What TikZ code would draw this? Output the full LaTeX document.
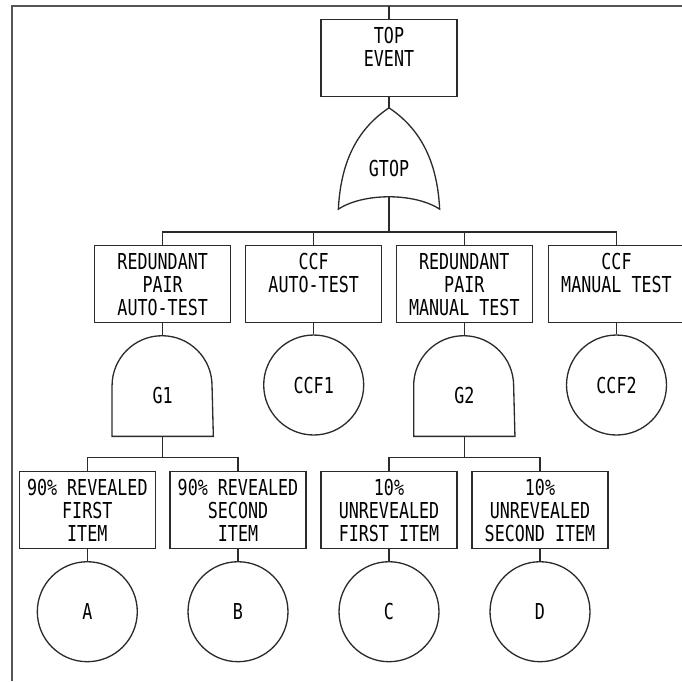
\documentclass[tikz,border=0pt]{standalone}
\usepackage{fontspec}
\newfontfamily\cadfont[FakeStretch=0.76]{DejaVu Sans Mono}
\newcommand{\cadsize}{\cadfont\fontsize{12.5pt}{13.1pt}\selectfont}
\usetikzlibrary{calc}
\definecolor{cline}{HTML}{2B2B2B}
\definecolor{cframe}{HTML}{555555}
\tikzset{
  every picture/.style={line width=0.75pt},
  evbox/.style={draw=cline, minimum width=2.72cm, minimum height=1.54cm, inner sep=0pt},
  evtext/.style={anchor=north, yshift=-0.16cm, align=center, inner sep=0pt, font=\cadsize},
  basic/.style={draw=cline, circle, minimum size=2cm, inner sep=0pt, font=\cadsize},
  gate/.style={minimum width=2cm, minimum height=2cm, inner sep=0pt},
  gatetext/.style={anchor=center, yshift=-0.2cm, inner sep=0pt, font=\cadsize},
  wire/.style={draw=cline},
  frame/.style={draw=cframe, line width=1.1pt},
}

\begin{document}
\begin{tikzpicture}[x=0.02cm, y=-0.02cm]
  \useasboundingbox (0,0) rectangle (682,681);
  \draw[frame] (682,5.7) -- (12,5.7) -- (12,681);
  % top event and OR gate
  \coordinate (topin) at (389,5.7);
  \node[evbox, label={[evtext]north:{TOP\\EVENT}}] (top) at (389,57.7) {};
  \node[gate, label={[gatetext]center:GTOP}] (gtop) at (389,158.5) {};
  \draw[wire] (gtop.south west) .. controls +(0.05cm,1cm) and +(-0.6cm,-0.4cm) .. (gtop.north)
    .. controls +(0.6cm,-0.4cm) and +(-0.05cm,1cm) .. (gtop.south east)
    .. controls +(-0.5cm,0.33cm) and +(0.5cm,0.33cm) .. (gtop.south west) -- cycle;
  \coordinate (gtopout) at ($(gtop.south)+(0cm,0.25cm)$);
  \draw[wire] (topin) -- (top.north);
  \draw[wire] (top.south) -- (gtop.north);
  % first level
  \node[evbox, label={[evtext]north:{REDUNDANT\\PAIR\\AUTO-TEST}}] (rpa) at (162.7,283.7) {};
  \node[evbox, label={[evtext]north:{CCF\\AUTO-TEST}}] (ccfa) at (313.7,283.7) {};
  \node[evbox, label={[evtext]north:{REDUNDANT\\PAIR\\MANUAL TEST}}] (rpm) at (464.3,283.7) {};
  \node[evbox, label={[evtext]north:{CCF\\MANUAL TEST}}] (ccfm) at (616.5,283.7) {};
  \coordinate (bus1) at (389,232);
  \draw[wire] (gtopout) -- (bus1);
  \foreach \n in {rpa,ccfa,rpm,ccfm} \draw[wire] (bus1) -| (\n.north);
  % AND gates and CCF events
  \node[gate, label={[gatetext]center:G1}] (g1) at (162.7,385.7) {};
  \node[gate, label={[gatetext]center:G2}] (g2) at (464.3,385.7) {};
  \foreach \g in {g1,g2}
    \draw[wire] (\g.south west) -- (\g.west) arc[start angle=180, end angle=0, radius=1cm] -- (\g.south east) -- cycle;
  \node[basic] (ccf1) at (313.7,385) {CCF1};
  \node[basic] (ccf2) at (616.5,385) {CCF2};
  \draw[wire] (rpa.south) -- (g1.north);
  \draw[wire] (ccfa.south) -- (ccf1.north);
  \draw[wire] (rpm.south) -- (g2.north);
  \draw[wire] (ccfm.south) -- (ccf2.north);
  % second level
  \node[evbox, label={[evtext]north:{90\% REVEALED\\FIRST\\ITEM}}] (rev1) at (87.3,510) {};
  \node[evbox, label={[evtext]north:{90\% REVEALED\\SECOND\\ITEM}}] (rev2) at (238,510) {};
  \node[evbox, label={[evtext]north:{10\%\\UNREVEALED\\FIRST ITEM}}] (unr1) at (389,510) {};
  \node[evbox, label={[evtext]north:{10\%\\UNREVEALED\\SECOND ITEM}}] (unr2) at (540,510) {};
  \coordinate (bus2) at (162.7,457.7);
  \coordinate (bus3) at (464.3,457.7);
  \draw[wire] (g1.south) -- (bus2);
  \draw[wire] (g2.south) -- (bus3);
  \foreach \n in {rev1,rev2} \draw[wire] (bus2) -| (\n.north);
  \foreach \n in {unr1,unr2} \draw[wire] (bus3) -| (\n.north);
  % basic events
  \node[basic] (ba) at (87.3,611.7) {A};
  \node[basic] (bb) at (238,611.7) {B};
  \node[basic] (bc) at (389,611.7) {C};
  \node[basic] (bd) at (540,611.7) {D};
  \foreach \n/\b in {rev1/ba,rev2/bb,unr1/bc,unr2/bd} \draw[wire] (\n.south) -- (\b.north);
\end{tikzpicture}
\end{document}
